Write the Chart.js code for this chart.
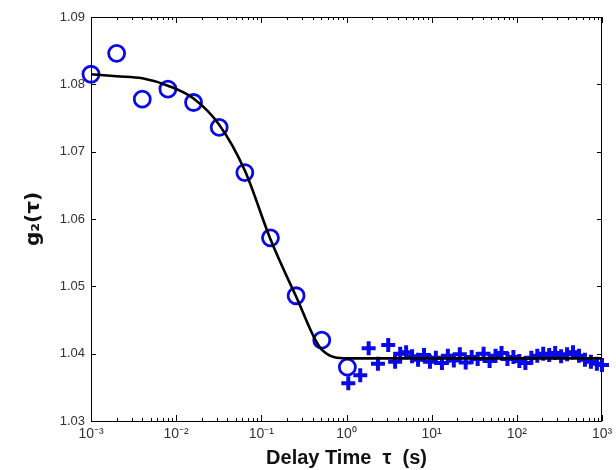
<!DOCTYPE html>
<html>
<head>
<meta charset="utf-8">
<script src="https://cdn.jsdelivr.net/npm/chart.js@4"></script>
<style>
  html, body { margin: 0; padding: 0; background: #fff; }
  #wrap { width: 616px; height: 470px; }
</style>
</head>
<body>
<div id="wrap"><canvas id="g2Chart"></canvas></div>
<script>
// Correlation function g2(tau): measured points and fitted decay
const circleTau = [0.001, 0.002, 0.004, 0.008, 0.016, 0.032, 0.064, 0.128, 0.256, 0.512, 1.024];
const circleG2 = [1.0815, 1.0846, 1.0778, 1.0793, 1.0773, 1.0736, 1.0669, 1.0572, 1.0486, 1.0420, 1.0380];

const crossTau = [1.05, 1.45, 1.82, 2.34, 3.09, 3.72, 4.27, 5.01, 5.89, 6.92, 8.13, 9.55, 11.2, 13.2,
  15.5, 18.2, 21.4, 25.1, 29.5, 34.7, 40.7, 47.9, 56.2, 66.1, 77.6, 91.2, 107, 126, 148, 174, 204,
  240, 282, 331, 389, 457, 537, 631, 741, 871, 1000];
const crossG2 = [1.0356, 1.0368, 1.0408, 1.0385, 1.0413, 1.0388, 1.0400, 1.0402, 1.0396, 1.0391,
  1.0398, 1.0388, 1.0394, 1.0386, 1.0397, 1.0390, 1.0399, 1.0387, 1.0395, 1.0392, 1.0400, 1.0389,
  1.0397, 1.0401, 1.0392, 1.0395, 1.0389, 1.0386, 1.0394, 1.0397, 1.0400, 1.0398, 1.0401, 1.0396,
  1.0399, 1.0402, 1.0397, 1.0391, 1.0388, 1.0385, 1.0383];

const fitTau = [0.001, 0.002, 0.004, 0.008, 0.016, 0.032, 0.064, 0.128, 0.256, 0.512, 1.024, 1000];
const fitG2 = [1.0815, 1.0812, 1.0809, 1.0798, 1.0779, 1.0740, 1.0672, 1.0570, 1.0485, 1.0406, 1.0393, 1.0393];

const xDecades = [0.001, 0.01, 0.1, 1, 10, 100, 1000];
const xTickLabels = ['10\u207B\u00B3', '10\u207B\u00B2', '10\u207B\u00B9', '10\u2070', '10\u00B9', '10\u00B2', '10\u00B3'];
const yTicks = [1.03, 1.04, 1.05, 1.06, 1.07, 1.08, 1.09];

const toPoints = (xs, ys) => xs.map((x, i) => ({ x: x, y: ys[i] }));

// box around the plot with inward MATLAB-style ticks
const axesBox = {
  id: 'axesBox',
  beforeDatasetsDraw(chart) {
    const { ctx, chartArea: a, scales } = chart;
    const xs = scales.x, ys = scales.y;
    ctx.save();
    ctx.strokeStyle = '#000';
    ctx.lineWidth = 1;
    ctx.strokeRect(a.left + 0.5, a.top + 0.5, a.right - a.left - 1, a.bottom - a.top);
    ctx.beginPath();
    xDecades.forEach((d, i) => {
      const px = Math.round(xs.getPixelForValue(d)) + 0.5;
      ctx.moveTo(px, a.bottom); ctx.lineTo(px, a.bottom - 6);
      ctx.moveTo(px, a.top); ctx.lineTo(px, a.top + 6);
      if (i < xDecades.length - 1) {
        for (let k = 2; k <= 9; k++) {
          const mx = Math.round(xs.getPixelForValue(k * d)) + 0.5;
          ctx.moveTo(mx, a.bottom); ctx.lineTo(mx, a.bottom - 3);
          ctx.moveTo(mx, a.top); ctx.lineTo(mx, a.top + 3);
        }
      }
    });
    yTicks.forEach(v => {
      const py = Math.round(ys.getPixelForValue(v)) + 0.5;
      ctx.moveTo(a.left, py); ctx.lineTo(a.left + 5, py);
      ctx.moveTo(a.right, py); ctx.lineTo(a.right - 5, py);
    });
    ctx.stroke();
    ctx.restore();
  }
};

const ctx = document.getElementById('g2Chart').getContext('2d');
new Chart(ctx, {
  type: 'scatter',
  data: {
    datasets: [
      {
        label: 'fit',
        type: 'line',
        data: toPoints(fitTau, fitG2),
        borderColor: '#000',
        borderWidth: 2.6,
        pointRadius: 0,
        cubicInterpolationMode: 'monotone',
        fill: false,
        clip: false,
        order: 0
      },
      {
        label: 'short delays',
        data: toPoints(circleTau, circleG2),
        pointStyle: 'circle',
        pointRadius: 8,
        pointBorderWidth: 2.8,
        borderColor: '#0a0ae6',
        backgroundColor: 'rgba(0,0,0,0)',
        clip: false,
        order: 1
      },
      {
        label: 'long delays',
        data: toPoints(crossTau, crossG2),
        pointStyle: 'cross',
        pointRadius: 7,
        pointBorderWidth: 4,
        borderColor: '#0a0ae6',
        backgroundColor: '#0a0ae6',
        clip: false,
        order: 2
      }
    ]
  },
  options: {
    responsive: true,
    maintainAspectRatio: false,
    animation: false,
    layout: { padding: { left: 0, right: 14, top: 17, bottom: 0 } },
    plugins: {
      legend: { display: false },
      tooltip: { enabled: false }
    },
    scales: {
      x: {
        type: 'logarithmic',
        min: 0.001,
        max: 1000,
        grid: { display: false, drawTicks: false },
        border: { display: false },
        afterBuildTicks: (scale) => { scale.ticks = xDecades.map(v => ({ value: v })); },
        afterFit: (scale) => {
          scale.height = 49;
          scale.paddingLeft = 0;
          scale.paddingRight = 0;
        },
        ticks: {
          autoSkip: false,
          maxRotation: 0,
          padding: 5,
          color: '#333',
          font: { family: 'Liberation Sans, Arial, sans-serif', size: 14 },
          callback: (value) => {
            const i = xDecades.indexOf(value);
            return i >= 0 ? xTickLabels[i] : '';
          }
        },
        title: {
          display: true,
          text: 'Delay Time  \u03C4  (s)',
          color: '#111',
          padding: { top: 0, bottom: 0 },
          font: { family: 'Liberation Sans, Arial, sans-serif', size: 20, weight: 'bold' }
        }
      },
      y: {
        type: 'linear',
        min: 1.03,
        max: 1.09,
        grid: { display: false, drawTicks: false },
        border: { display: false },
        afterBuildTicks: (scale) => { scale.ticks = yTicks.map(v => ({ value: v })); },
        afterFit: (scale) => {
          scale.width = 91;
          scale.paddingTop = 0;
          scale.paddingBottom = 0;
        },
        ticks: {
          padding: 6,
          color: '#333',
          font: { family: 'Liberation Sans, Arial, sans-serif', size: 13 },
          callback: (value) => value.toFixed(2)
        },
        title: {
          display: true,
          text: 'g\u2082(\u03C4)',
          color: '#111',
          padding: { top: 22, bottom: 0 },
          font: { family: 'DejaVu Sans, sans-serif', size: 20, weight: 'bold' }
        }
      }
    }
  },
  plugins: [axesBox]
});
</script>
</body>
</html>
